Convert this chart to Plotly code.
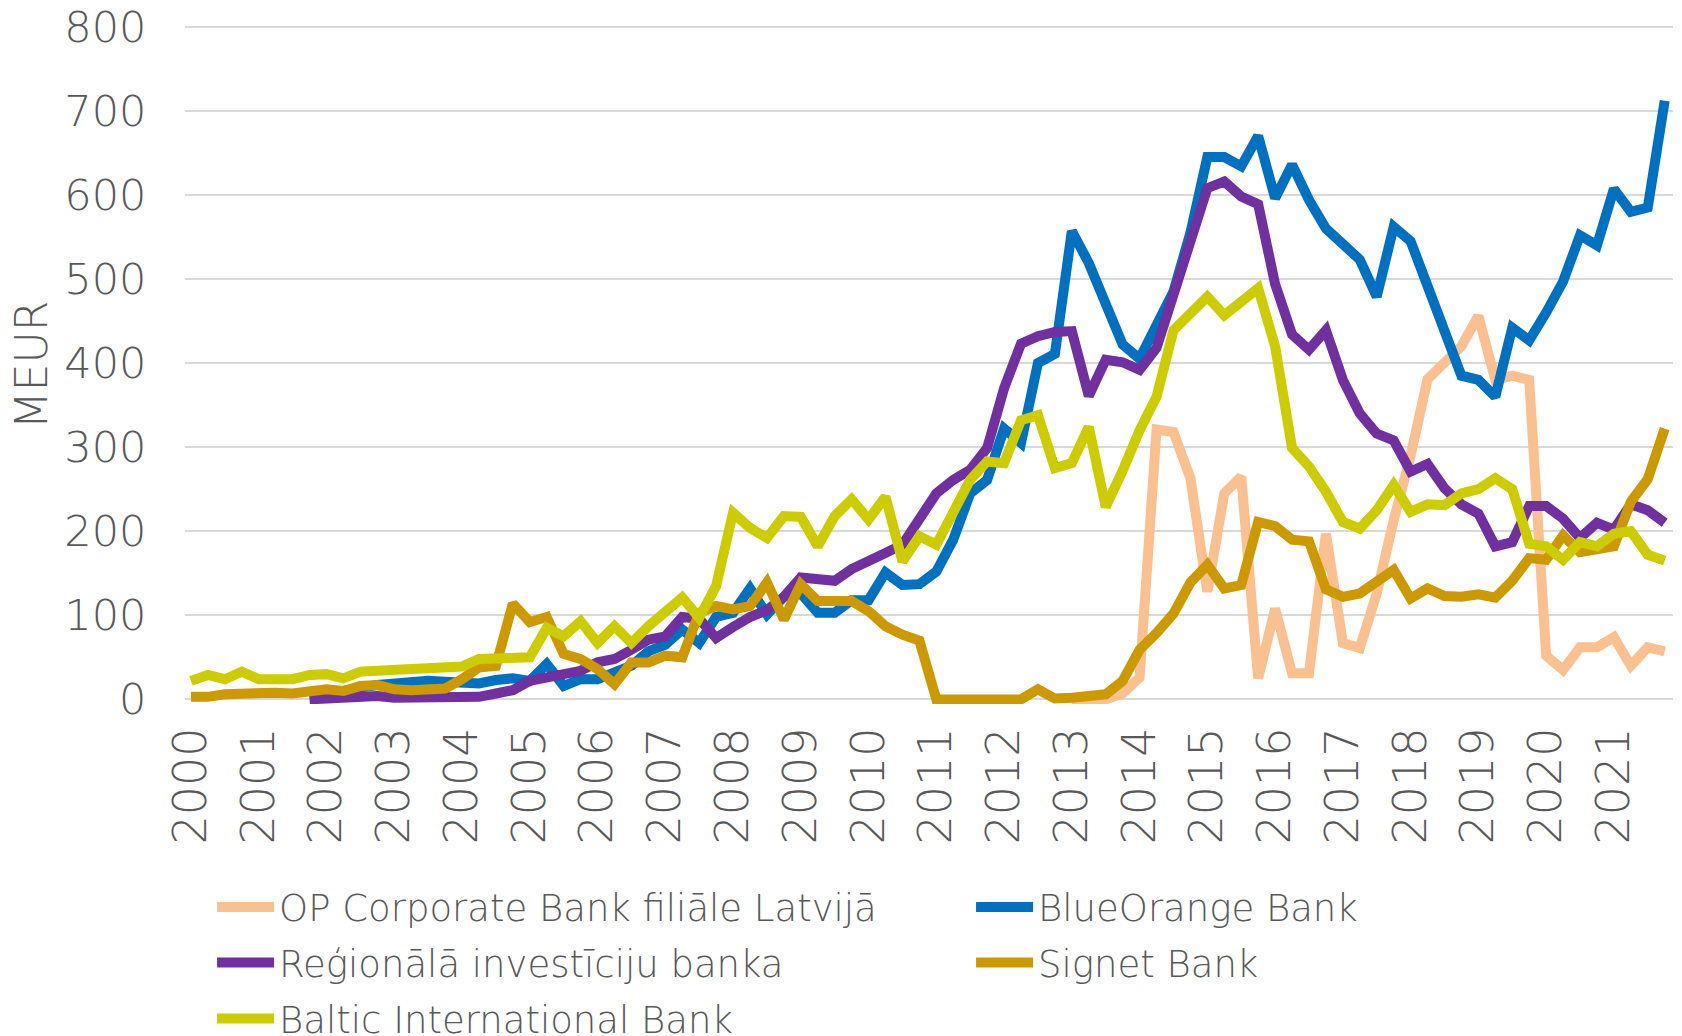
import plotly.graph_objects as go

years = list(range(2000, 2022))
quarters = [f"{y}Q{q}" for y in years for q in range(1, 5)]
tick_vals = [f"{y}Q1" for y in years]
tick_text = [str(y) for y in years]

N = None
op_corporate = [N] * 52 + [0, 0, 0, 7, 26, 321, 318, 263, 128, 245, 265, 25, 108, 31, 31, 197, 67, 61,
                           126, 213, 290, 381, 402, 420, 456, 380, 385, 380, 52, 35, 62, 62, 74, 40, 62, 57]
blueorange = [N] * 7 + [2, 5, 8, 14, 17, 19, 21, 22, 21, 20, 19, 23, 25, 22, 42, 16, 24, 24, 32, 40, 57, 65,
                        83, 67, 98, 103, 132, 101, 122, 126, 103, 103, 118, 118, 151, 136, 137, 152, 190, 245,
                        261, 322, 305, 400, 411, 557, 519, 470, 422, 405, 448, 485, 555, 645, 645, 634, 670,
                        596, 636, 594, 560, 542, 523, 479, 562, 545, 493, 438, 385, 380, 360, 442, 427, 460,
                        497, 552, 540, 607, 580, 585, 712]
regionala = [N] * 7 + [0, 1, 2, 5, 4, 2, 2, 2, 2, 3, 3, 7, 11, 22, 26, 30, 34, 44, 48, 59, 71, 75, 98, 96, 73,
                       86, 98, 106, 122, 145, 143, 141, 155, 163, 174, 184, 213, 245, 261, 273, 299, 370, 423,
                       432, 437, 438, 361, 404, 401, 392, 418, 479, 538, 608, 616, 598, 589, 494, 434, 416, 439,
                       380, 340, 316, 308, 271, 280, 251, 232, 221, 182, 187, 230, 230, 215, 192, 210, 202, 232,
                       225, 210]
signet = [3, 3, 6, 7, 8, 8, 7, 10, 12, 10, 16, 17, 12, 11, 12, 13, 24, 38, 40, 114, 92, 98, 54, 48, 36, 18, 44,
          44, 52, 50, 103, 111, 107, 111, 139, 95, 137, 117, 117, 117, 105, 87, 77, 70, 0, 0, 0, 0, 0, 0, 12, 1,
          2, 3, 6, 22, 59, 79, 102, 139, 160, 132, 136, 211, 206, 190, 188, 131, 122, 126, 140, 154, 120, 132,
          123, 122, 125, 121, 141, 168, 166, 195, 175, 179, 182, 235, 262, 322]
baltic = [22, 29, 24, 33, 24, 25, 24, 29, 30, 25, 33, 34, 34, 36, 37, 38, 39, 48, 48, 49, 50, 85, 75, 93, 67,
          87, 67, 87, 103, 121, 97, 135, 222, 204, 192, 218, 217, 182, 218, 238, 214, 241, 164, 194, 184, 221,
          261, 283, 281, 332, 338, 275, 281, 324, 229, 272, 320, 360, 439, 459, 479, 457, 473, 489, 420, 299,
          277, 247, 211, 203, 225, 255, 223, 232, 231, 245, 250, 263, 250, 185, 182, 166, 187, 182, 197, 200,
          172, 165]

series_names = ["OP Corporate Bank filiāle Latvijā", "BlueOrange Bank", "Reģionālā investīciju banka",
                "Signet Bank", "Baltic International Bank"]
series_values = [op_corporate, blueorange, regionala, signet, baltic]
series_colors = ["#FAC090", "#0070C0", "#7030A0", "#CC9900", "#CCCC00"]
legend_ids = ["legend", "legend2", "legend3", "legend4", "legend5"]
# legend placement (container fractions): column x, row y
legend_pos = [(0.1219, 0.125), (0.5753, 0.125), (0.1219, 0.071), (0.5753, 0.071), (0.1219, 0.0165)]

FONT = "DejaVu Sans"
TXT = "#595959"
W, H = 1674, 1028  # page body has an 8px default margin

fig = go.Figure()
for name, vals, color, lg in zip(series_names, series_values, series_colors, legend_ids):
    fig.add_trace(go.Scatter(
        x=quarters, y=vals, name=name, mode="lines",
        line=dict(color=color, width=10), connectgaps=False, legend=lg,
    ))

legends = {}
for lg, (lx, ly) in zip(legend_ids, legend_pos):
    legends[lg] = dict(orientation="h", xref="container", yref="container", xanchor="left",
                       yanchor="middle", x=lx, y=ly,
                       font=dict(family=FONT, size=37, color=TXT, weight=300), itemwidth=57,
                       bgcolor="rgba(0,0,0,0)")

fig.update_layout(
    width=W, height=H,
    margin=dict(l=177, r=9, t=17, b=332, autoexpand=False),
    paper_bgcolor="white", plot_bgcolor="white",
    font=dict(family=FONT, color=TXT, weight=300),
    showlegend=True,
    **legends,
    xaxis=dict(
        type="category", categoryorder="array", categoryarray=quarters,
        range=[-0.354, 87.49], tickmode="array", tickvals=tick_vals, ticktext=tick_text,
        tickangle=-90, showgrid=False, zeroline=False, showline=False, automargin=False,
        ticks="outside", ticklen=4, tickcolor="rgba(0,0,0,0)", ticklabeloverflow="allow",
        tickfont=dict(family=FONT, size=46, color=TXT, weight=300),
    ),
    yaxis=dict(
        range=[-5.5, 802.1], tickmode="array", tickvals=[0, 100, 200, 300, 400, 500, 600, 700, 800],
        showgrid=True, gridcolor="#D9D9D9", gridwidth=1.5, zeroline=False, showline=False,
        automargin=False, ticklabeloverflow="allow",
        ticks="outside", ticklen=29, tickcolor="rgba(0,0,0,0)",
        tickfont=dict(family=FONT, size=43, color=TXT, weight=300),
    ),
    annotations=[dict(
        text="MEUR", xref="paper", yref="paper", x=-0.103, y=0.5, xanchor="center", yanchor="middle",
        textangle=-90, showarrow=False, font=dict(family=FONT, size=44, color=TXT, weight=300),
    )],
)

fig.write_html("out.html")
